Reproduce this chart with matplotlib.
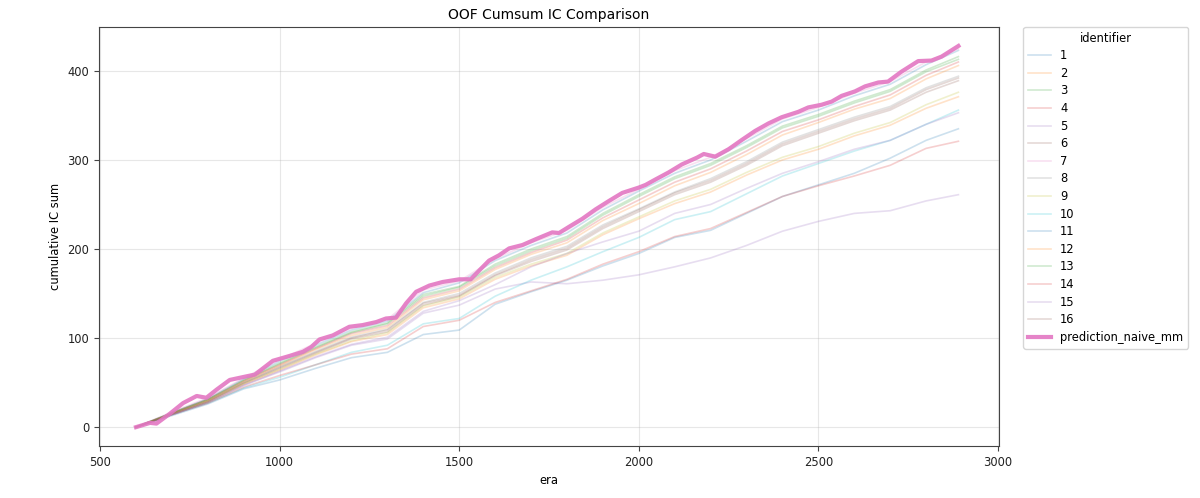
import matplotlib
matplotlib.use('Agg')
import matplotlib.pyplot as plt

plt.rcParams['font.size'] = 8.3
plt.rcParams['axes.titlesize'] = 10
plt.rcParams['axes.labelsize'] = 8.3
plt.rcParams['axes.edgecolor'] = '#444444'
plt.rcParams['xtick.color'] = '#444444'
plt.rcParams['ytick.color'] = '#444444'
plt.rcParams['xtick.labelcolor'] = '#222222'
plt.rcParams['ytick.labelcolor'] = '#222222'

eras = [600, 700, 800, 900, 1000, 1100, 1200, 1300, 1400, 1500, 1600, 1700,
        1800, 1900, 2000, 2100, 2200, 2300, 2400, 2500, 2600, 2700, 2800, 2890]

# cumulative IC per identifier (1..16)
ic_1 = [0, 16, 32, 54, 74, 92, 109, 119, 151, 162, 187, 204, 218, 244, 265, 285, 300, 321, 343, 356, 372, 385, 407, 423]
ic_2 = [0, 14, 28, 48, 64, 81, 96, 104, 134, 144, 166, 181, 193, 216, 234, 251, 264, 283, 300, 312, 327, 339, 358, 371]
ic_3 = [0, 16, 31, 52, 71, 89, 106, 116, 147, 157, 181, 198, 212, 238, 259, 279, 294, 314, 336, 349, 364, 377, 399, 413]
ic_4 = [0, 16, 31, 52, 70, 88, 105, 114, 145, 155, 179, 196, 210, 235, 255, 275, 290, 310, 332, 345, 360, 373, 395, 410]
ic_5 = [0, 14, 28, 47, 62, 78, 92, 99, 128, 137, 155, 163, 161, 165, 171, 180, 190, 204, 220, 231, 240, 243, 254, 261]
ic_6 = [0, 15, 29, 49, 66, 83, 99, 107, 137, 147, 170, 186, 199, 223, 242, 261, 275, 294, 316, 330, 344, 356, 376, 389]
ic_7 = [0, 17, 33, 55, 76, 94, 111, 121, 154, 164, 189, 207, 221, 247, 267, 288, 303, 324, 346, 359, 375, 388, 410, 425]
ic_8 = [0, 15, 30, 50, 68, 85, 101, 110, 140, 150, 173, 190, 203, 227, 245, 264, 279, 298, 320, 334, 348, 360, 381, 394]
ic_9 = [0, 15, 29, 49, 65, 82, 97, 106, 136, 146, 168, 183, 195, 218, 236, 254, 267, 286, 303, 315, 330, 342, 362, 376]
ic_10 = [0, 14, 27, 44, 56, 70, 84, 92, 116, 122, 147, 165, 180, 197, 213, 233, 242, 262, 282, 296, 310, 322, 340, 356]
ic_11 = [0, 13, 26, 43, 53, 66, 78, 84, 104, 109, 138, 152, 165, 181, 195, 213, 221, 240, 259, 272, 285, 302, 322, 335]
ic_12 = [0, 15, 30, 51, 69, 87, 103, 112, 143, 153, 177, 194, 207, 232, 251, 271, 286, 306, 328, 342, 357, 369, 391, 406]
ic_13 = [0, 16, 31, 53, 72, 90, 107, 117, 149, 158, 183, 200, 214, 240, 261, 281, 296, 316, 338, 351, 366, 379, 401, 416]
ic_14 = [0, 14, 27, 45, 58, 70, 82, 88, 113, 120, 140, 153, 166, 183, 197, 214, 223, 241, 259, 271, 282, 294, 313, 321]
ic_15 = [0, 14, 28, 47, 63, 79, 93, 101, 130, 142, 160, 180, 195, 208, 220, 240, 250, 268, 285, 298, 312, 322, 340, 353]
ic_16 = [0, 15, 29, 50, 67, 84, 100, 109, 139, 148, 171, 188, 201, 225, 244, 263, 277, 296, 318, 332, 346, 358, 379, 392]

identifiers = ['1', '2', '3', '4', '5', '6', '7', '8', '9', '10', '11', '12', '13', '14', '15', '16']
thin_series = [ic_1, ic_2, ic_3, ic_4, ic_5, ic_6, ic_7, ic_8, ic_9, ic_10,
               ic_11, ic_12, ic_13, ic_14, ic_15, ic_16]

# the highlighted ensemble
naive_era = [600, 639, 657, 694, 731, 769, 796, 824, 861, 907, 931, 981, 1028, 1065, 1088,
             1111, 1148, 1194, 1231, 1269, 1296, 1324, 1352, 1380, 1417, 1454, 1500, 1532,
             1556, 1583, 1611, 1639, 1676, 1713, 1759, 1778, 1806, 1843, 1880, 1917, 1954,
             2000, 2019, 2046, 2083, 2120, 2162, 2181, 2213, 2250, 2287, 2324, 2361, 2398,
             2444, 2472, 2509, 2537, 2565, 2602, 2630, 2667, 2694, 2731, 2778, 2815, 2843, 2890]
naive_ic = [0, 4.8, 4, 15, 27, 35, 33, 42, 53, 57, 59, 74.5, 80, 84.6, 90,
            98.5, 103, 112.7, 114.6, 118, 122, 123, 139, 152, 159, 163, 166, 166,
            176, 187, 193, 200.7, 204.5, 211, 218.7, 218, 225, 234, 244.6, 254, 263,
            269, 272, 278, 286, 295, 302.6, 306.7, 303.7, 312, 322.5, 332.6, 341, 348,
            354, 359, 362, 365.5, 372, 377, 382.6, 387, 388, 399, 411, 411.6, 416, 428]

fig = plt.figure(figsize=(12, 4.98), dpi=100)
ax = fig.add_axes([0.0825, 0.104, 0.75, 0.842])

colors = plt.rcParams['axes.prop_cycle'].by_key()['color']
for i, (name, vals) in enumerate(zip(identifiers, thin_series)):
    ax.plot(eras, vals, color=colors[i % len(colors)], alpha=0.22, linewidth=1.2, label=name)

ax.plot(naive_era, naive_ic, color='tab:pink', linewidth=3, alpha=0.9, label='prediction_naive_mm')

ax.set_xlim(497, 3003)
ax.set_title('OOF Cumsum IC Comparison')
ax.set_xlabel('era')
ax.set_ylabel('cumulative IC sum')
ax.grid(True, alpha=0.3)
ax.legend(title='identifier', loc='upper left', bbox_to_anchor=(1.027, 1.0),
          borderaxespad=0, labelspacing=0.4)

plt.savefig('out.png', dpi=100)
plt.close()
